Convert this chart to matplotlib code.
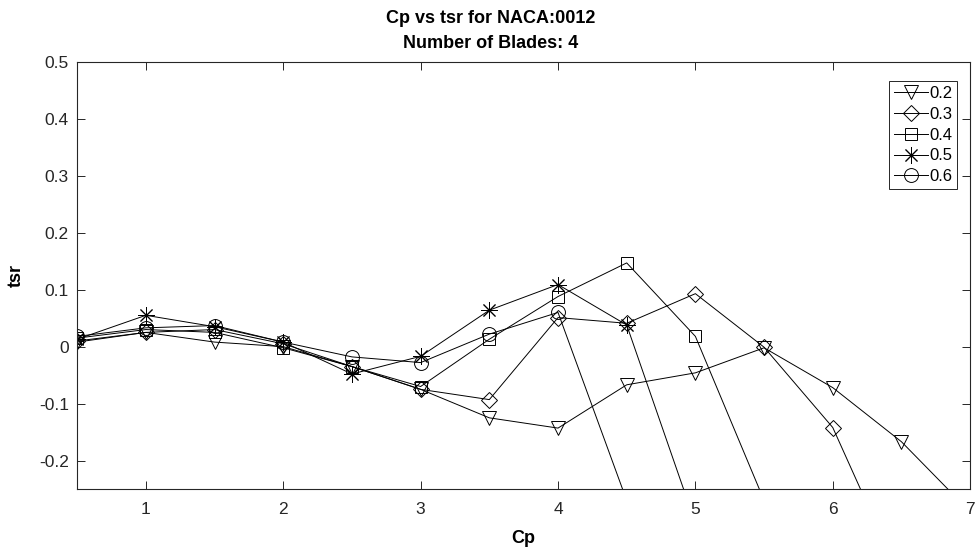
import numpy as np
import matplotlib
matplotlib.use('Agg')
import matplotlib.pyplot as plt

plt.rcParams['font.family'] = ['Liberation Sans', 'DejaVu Sans']
plt.rcParams['axes.unicode_minus'] = False

# Cp values (x axis) and tsr values per series
cp = [0.5, 1, 1.5, 2, 2.5, 3, 3.5, 4, 4.5, 5, 5.5, 6, 6.5, 7]

tsr_02 = [0.008, 0.025, 0.008, 0.0, -0.035, -0.075, -0.125, -0.143, -0.067, -0.046, -0.002, -0.072, -0.167, -0.29]
tsr_03 = [0.010, 0.025, 0.030, 0.005, -0.035, -0.075, -0.093, 0.051, 0.041, 0.093, -0.001, -0.142, -0.41]
tsr_04 = [0.015, 0.030, 0.025, -0.002, -0.035, -0.070, 0.013, 0.088, 0.147, 0.018, -0.27]
tsr_05 = [0.013, 0.055, 0.035, 0.008, -0.048, -0.017, 0.064, 0.109, 0.038, -0.31]
tsr_06 = [0.018, 0.033, 0.037, 0.008, -0.018, -0.028, 0.022, 0.060, -0.27]

series = {'0.2': tsr_02, '0.3': tsr_03, '0.4': tsr_04, '0.5': tsr_05, '0.6': tsr_06}
markers = {'0.2': ('v', 10), '0.3': ('D', 8), '0.4': ('s', 8), '0.5': ((8, 2, 0), 12), '0.6': ('o', 10)}

fig = plt.figure(figsize=(9.77, 5.57), dpi=100)
ax = fig.add_axes([0.079, 0.122, 0.914, 0.767])

for name, vals in series.items():
    m, ms = markers[name]
    ax.plot(cp[:len(vals)], vals, color='black', linewidth=0.7, marker=m, markersize=ms,
            markerfacecolor='none', markeredgecolor='black', markeredgewidth=0.7, label=name)

ax.set_xlim(0.5, 7)
ax.set_ylim(-0.25, 0.5)
ax.set_xticks([1, 2, 3, 4, 5, 6, 7])
ax.set_yticks([-0.2, -0.1, 0, 0.1, 0.2, 0.3, 0.4, 0.5])
ax.set_yticklabels(['-0.2', '-0.1', '0', '0.1', '0.2', '0.3', '0.4', '0.5'])
ax.tick_params(direction='in', top=True, right=True, labelsize=12.5, length=6, width=0.7,
               colors='#262626', pad=6)
ax.tick_params(axis='x', pad=9)
for s in ax.spines.values():
    s.set_linewidth(0.8)
    s.set_color('#262626')

ax.set_xlabel('Cp', fontsize=13, fontweight='bold', labelpad=10)
ax.set_ylabel('tsr', fontsize=13, fontweight='bold', labelpad=10)
fig.text(0.502, 0.982, 'Cp vs tsr for NACA:0012\nNumber of Blades: 4', fontsize=13,
         fontweight='bold', ha='center', va='top', linespacing=1.6)

leg = ax.legend(loc='upper right', fontsize=12, handlelength=2.0, handletextpad=0.1,
                borderpad=0.3, labelspacing=0.35, fancybox=False, framealpha=1,
                bbox_to_anchor=(0.995, 0.975))
leg.get_frame().set_edgecolor('#262626')
leg.get_frame().set_linewidth(0.7)

fig.savefig('out.png', dpi=100)
